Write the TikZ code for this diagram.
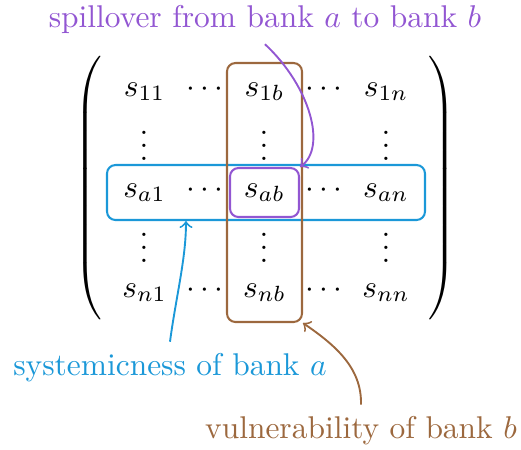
\documentclass[tikz,border=0pt]{standalone}
\usetikzlibrary{fit,calc}
\definecolor{myblue}{RGB}{27,152,216}
\definecolor{mypurple}{RGB}{146,86,210}
\definecolor{mybrown}{RGB}{156,104,62}
\newcommand\myvdots{\vbox{\baselineskip4pt \lineskiplimit0pt \hbox{.}\hbox{.}\hbox{.}}}
\begin{document}
\begin{tikzpicture}[x=0.318pt,y=-0.318pt,
  entry/.style={anchor=base,inner sep=0pt},
  dotsv/.style={anchor=base,inner sep=0pt},
  box/.style={draw,rounded corners=2.7pt,line width=0.65pt,inner sep=0pt},
  conn/.style={->,line width=0.6pt},
  lbl/.style={anchor=base}]
\useasboundingbox (0,0) rectangle (521,449);
% delimiters
\node[inner sep=0pt] (lp) at (90,191) {$\left(\vrule height 41.5pt depth 41.5pt width 0pt\right.$};
\node[inner sep=0pt] (rp) at (440,191) {$\left.\vrule height 41.5pt depth 41.5pt width 0pt\right)$};
% row 1
\node[entry] (s11) at (144.5,96) {$s_{11}$};
\node[entry] (c11) at (205,96) {$\cdots$};
\node[entry] (s1b) at (264.5,96) {$s_{1b}$};
\node[entry] (c12) at (323.5,96) {$\cdots$};
\node[entry] (s1n) at (386,96) {$s_{1n}$};
% vdots 1
\node[dotsv] (v11) at (144,160) {$\myvdots$};
\node[dotsv] (v12) at (264,160) {$\myvdots$};
\node[dotsv] (v13) at (386,160) {$\myvdots$};
% row a
\node[entry] (sa1) at (144.5,197) {$s_{a1}$};
\node[entry] (ca1) at (205,197) {$\cdots$};
\node[entry] (sab) at (264.5,197) {$s_{ab}$};
\node[entry] (ca2) at (323.5,197) {$\cdots$};
\node[entry] (san) at (386,197) {$s_{an}$};
% vdots 2
\node[dotsv] (v21) at (144,262) {$\myvdots$};
\node[dotsv] (v22) at (264,262) {$\myvdots$};
\node[dotsv] (v23) at (386,262) {$\myvdots$};
% row n
\node[entry] (sn1) at (144.5,297) {$s_{n1}$};
\node[entry] (cn1) at (205,297) {$\cdots$};
\node[entry] (snb) at (264.5,297) {$s_{nb}$};
\node[entry] (cn2) at (323.5,297) {$\cdots$};
\node[entry] (snn) at (386,297) {$s_{nn}$};
% boxes
\node[box,myblue,fit={(107,165) (425,220)}] (rowbox) {};
\node[box,mybrown,fit={(227,63) (302,322)}] (colbox) {};
\node[box,mypurple,fit={(230,168) (299,217)}] (abbox) {};
% labels
\node[lbl,text=mypurple] (spill) at (265,27) {spillover from bank $a$ to bank $b$};
\node[lbl,text=myblue] (sys) at (170,375) {systemicness of bank $a$};
\node[lbl,text=mybrown] (vul) at (361,438) {vulnerability of bank $b$};
% connectors
\draw[conn,mypurple] (spill.south) .. controls +(45,42) and +(27,-20) .. (abbox.north east);
\draw[conn,myblue] (sys.north) .. controls +(6,-45) and +(0,38) .. ($(rowbox.south west)!0.25!(rowbox.south east)$);
\draw[conn,mybrown] (vul.north) .. controls +(1,-37) and +(32,22) .. (colbox.south east);
\end{tikzpicture}
\end{document}
